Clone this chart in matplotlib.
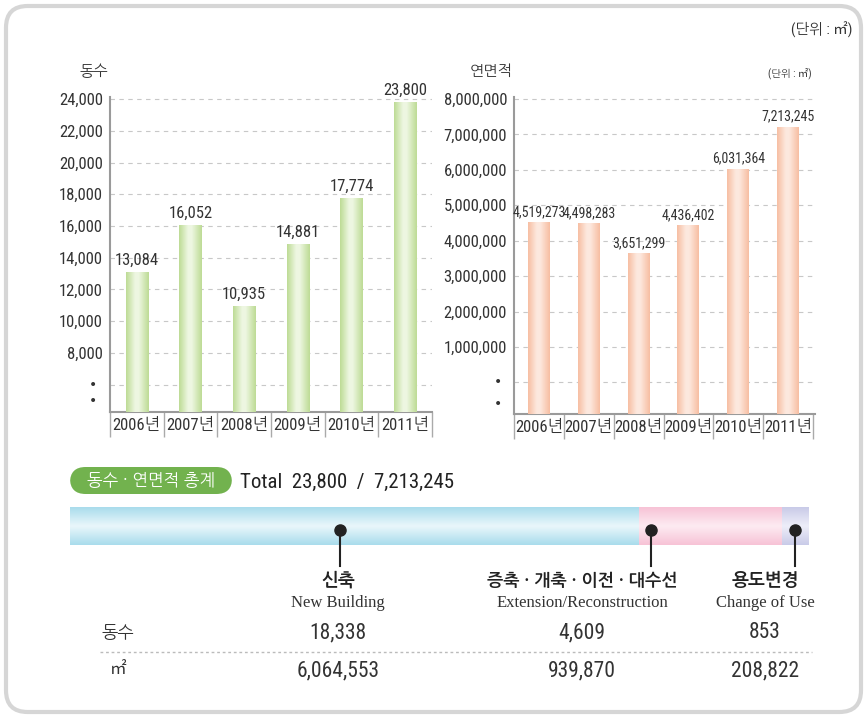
import matplotlib
matplotlib.use("Agg")
import matplotlib.pyplot as plt
import numpy as np
from matplotlib.patches import FancyBboxPatch
from matplotlib.colors import LinearSegmentedColormap

FAM = ['Roboto Condensed', 'NanumGothic', 'Noto Sans CJK KR', 'DejaVu Sans']
KO = ['NanumGothic', 'Noto Sans CJK KR', 'DejaVu Sans']
plt.rcParams['font.family'] = FAM

# ---------------- data ----------------
years = ['2006년', '2007년', '2008년', '2009년', '2010년', '2011년']
buildings = [13084, 16052, 10935, 14881, 17774, 23800]
floor_area = [4519273, 4498283, 3651299, 4436402, 6031364, 7213245]
left_ticks = [8000, 10000, 12000, 14000, 16000, 18000, 20000, 22000, 24000]
right_ticks = [1000000, 2000000, 3000000, 4000000, 5000000, 6000000, 7000000, 8000000]

types_ko = ['신축', '증축 · 개축 · 이전 · 대수선', '용도변경']
types_en = ['New Building', 'Extension/Reconstruction', 'Change of Use']
type_counts = [18338, 4609, 853]
type_area = [6064553, 939870, 208822]
total_count = 23800
total_area = 7213245

W, H = 867, 718
fig = plt.figure(figsize=(W / 100, H / 100), dpi=100)
fig.patch.set_facecolor('white')

TXT = '#333333'
GRID = '#c8c8c8'


def fx(x):
    return x / W


def fy(y):
    return 1 - y / H


# outer rounded border
border = FancyBboxPatch((fx(6), fy(712)), fx(855), (712 - 6) / H,
                        boxstyle='round,pad=0,rounding_size=0.025',
                        transform=fig.transFigure, facecolor='none',
                        edgecolor='#d6d6d6', linewidth=3, mutation_aspect=W / H)
fig.patches.append(border)

fig.text(fx(852), fy(30), '(단위 : ㎡)', ha='right', va='center', fontsize=10.5, color=TXT)


def gradient_bars(ax, xs, vals, base, width, edge_col, mid_col):
    cmap = LinearSegmentedColormap.from_list('g', [(0, edge_col), (0.4, mid_col), (0.55, mid_col), (1, edge_col)])
    grad = np.linspace(0, 1, 64).reshape(1, -1)
    bars = ax.bar(xs, [v - base for v in vals], bottom=base, width=width,
                  color=edge_col, edgecolor='none', zorder=2)
    for b in bars:
        x0, y0 = b.get_x(), b.get_y()
        im = ax.imshow(grad, cmap=cmap, aspect='auto', zorder=3,
                       extent=(x0, x0 + b.get_width(), y0, y0 + b.get_height()),
                       interpolation='bicubic')
        im.set_clip_path(b)
    return bars


def style_axis(ax, ylim, xlim, ticks, extra_grid, dots):
    ax.set_ylim(*ylim)
    ax.set_xlim(*xlim)
    for s in ['top', 'right']:
        ax.spines[s].set_visible(False)
    for s in ['left', 'bottom']:
        ax.spines[s].set_color('#9a9a9a')
        ax.spines[s].set_linewidth(1.5)
    ax.set_yticks(ticks)
    ax.set_yticklabels([f'{t:,}' for t in ticks], fontsize=12, color=TXT)
    ax.tick_params(axis='y', length=0, pad=5)
    for t in list(ticks) + extra_grid:
        ax.axhline(t, color=GRID, linestyle=(0, (4, 4)), linewidth=0.8, zorder=1)
    for d in dots:
        ax.text(-0.04, d, '•', transform=ax.get_yaxis_transform(), ha='right',
                va='center', fontsize=10, color=TXT, family=['DejaVu Sans'])
    ax.set_xticks(range(len(years)))
    ax.set_xticklabels(years, fontsize=12, color=TXT)
    ax.set_xticks([i + 0.5 for i in range(-1, len(years))], minor=True)
    ax.tick_params(axis='x', which='major', length=0, pad=4)
    ax.tick_params(axis='x', which='minor', length=18, width=1, color='#aaaaaa', direction='out')


# ---------------- left chart ----------------
axL = fig.add_axes([fx(110), fy(412), fx(322), (412 - 97) / H])
l_lo = 4270
style_axis(axL, (l_lo, 24130), (-0.48, 5.46), left_ticks, [6000], [6000, 4950])
gradient_bars(axL, range(len(years)), buildings, l_lo, 0.42, '#bddb95', '#eef7e2')
for i, v in enumerate(buildings):
    axL.text(i, v + 250, f'{v:,}', ha='center', va='bottom', fontsize=12,
             color=TXT, clip_on=False)
fig.text(fx(80), fy(71), '동수', ha='left', va='center', fontsize=11, color=TXT, family=KO)

# ---------------- right chart ----------------
axR = fig.add_axes([fx(514), fy(414), fx(301), (414 - 97) / H])
r_lo = -890000
style_axis(axR, (r_lo, 8056000), (-0.5, 5.54), right_ticks, [0], [0, -620000])
gradient_bars(axR, range(len(years)), floor_area, r_lo, 0.44, '#f7bea2', '#fde9df')
for i, v in enumerate(floor_area):
    axR.text(i, v + 90000, f'{v:,}', ha='center', va='bottom', fontsize=10,
             color=TXT, clip_on=False)
fig.text(fx(470), fy(71), '연면적', ha='left', va='center', fontsize=11, color=TXT, family=KO)
fig.text(fx(812), fy(73), '(단위 : ㎡)', ha='right', va='center', fontsize=7.5, color=TXT)

# ---------------- bottom summary ----------------
pill = FancyBboxPatch((fx(70), fy(494)), fx(162), (494 - 467) / H,
                      boxstyle='round,pad=0,rounding_size=0.018',
                      transform=fig.transFigure, facecolor='#72b24e',
                      edgecolor='none', mutation_aspect=W / H)
fig.patches.append(pill)
fig.text(fx(151), fy(481), '동수 · 연면적 총계', ha='center', va='center',
         fontsize=12, color='white', family=KO)
fig.text(fx(240), fy(482), f'Total  {total_count:,}  /  {total_area:,}', ha='left',
         va='center', fontsize=15, color='#222222')

axB = fig.add_axes([fx(70), fy(545), fx(738), (545 - 507) / H])
axB.axis('off')
seg_cols = [('#a9dcec', '#eaf7fb'), ('#f7c3d6', '#fdebf2'), ('#c9cbe8', '#eeeef9')]
left = 0
vgrad = np.linspace(0, 1, 64).reshape(-1, 1)
for c, (ec, mc) in zip(type_counts, seg_cols):
    cm = LinearSegmentedColormap.from_list('s', [ec, mc, ec])
    axB.imshow(vgrad, cmap=cm, aspect='auto', extent=(left, left + c, 0, 1),
               interpolation='bicubic', zorder=1)
    left += c
axB.set_xlim(0, sum(type_counts))
axB.set_ylim(0, 1)

marker_x = [340, 651, 795]
label_x = [338, 582, 765]
for mx in marker_x:
    fig.add_artist(plt.Line2D([fx(mx), fx(mx)], [fy(530), fy(566)],
                              transform=fig.transFigure, color='#222222', linewidth=1.5))
    fig.add_artist(plt.Line2D([fx(mx)], [fy(530)], transform=fig.transFigure,
                              marker='o', markersize=8, color='#222222'))

ko_sizes = [13, 12.4, 13]
for lx, ko, en, c, a, ks in zip(label_x, types_ko, types_en, type_counts, type_area, ko_sizes):
    fig.text(fx(lx), fy(580), ko, ha='center', va='center', fontsize=ks,
             fontweight='bold', color='#222222', family=KO)
    fig.text(fx(lx), fy(603), en, ha='center', va='center', fontsize=12,
             color='#333333', family=['Liberation Serif', 'DejaVu Serif'])
    fig.text(fx(lx), fy(633), f'{c:,}', ha='center', va='center', fontsize=15.5, color=TXT)
    fig.text(fx(lx), fy(671), f'{a:,}', ha='center', va='center', fontsize=15.5, color=TXT)

fig.text(fx(118), fy(633), '동수', ha='center', va='center', fontsize=12.5, color=TXT, family=KO)
fig.text(fx(118), fy(669), '㎡', ha='center', va='center', fontsize=12, color=TXT)
fig.add_artist(plt.Line2D([fx(100), fx(812)], [fy(652), fy(652)], transform=fig.transFigure,
                          color='#bbbbbb', linewidth=1, linestyle=(0, (2, 2))))

fig.savefig('out.png', dpi=100)
